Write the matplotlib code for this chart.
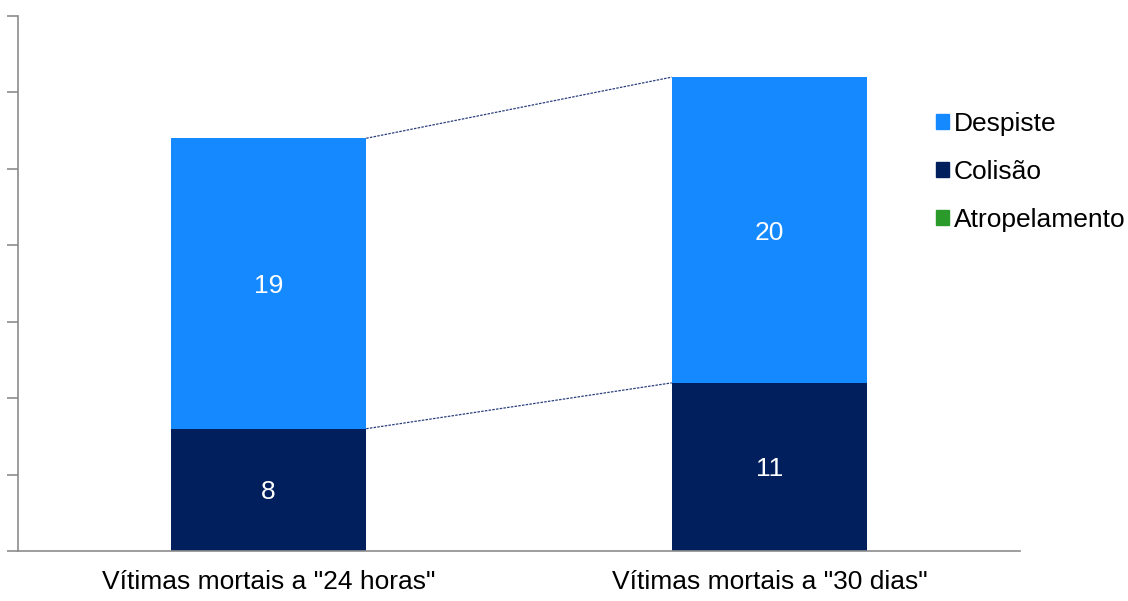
import matplotlib.pyplot as plt
import numpy as np
from matplotlib.patches import Patch

plt.rcParams['font.family'] = ['Liberation Sans', 'DejaVu Sans']

categories = ['Vítimas mortais a "24 horas"', 'Vítimas mortais a "30 dias"']
atropelamento = [0, 0]
colisao = [8, 11]
despiste = [19, 20]

c_desp = '#1589FF'
c_col = '#001F5C'
c_atr = '#2A9A2A'

fig = plt.figure(figsize=(11.28, 6.01), dpi=100)
ax = fig.add_axes([18/1128, 1-551/601, (1020-18)/1128, (551-16)/601])

x = np.arange(len(categories))
w = 0.39
ax.bar(x, atropelamento, w, color=c_atr)
ax.bar(x, colisao, w, bottom=atropelamento, color=c_col)
bottom2 = np.array(atropelamento) + np.array(colisao)
ax.bar(x, despiste, w, bottom=bottom2, color=c_desp)
top = bottom2 + np.array(despiste)

# series lines between the bars
ax.plot([x[0] + w/2, x[1] - w/2], [bottom2[0], bottom2[1]], color='#2B3F7F',
        linestyle=(0, (2, 1)), linewidth=0.9)
ax.plot([x[0] + w/2, x[1] - w/2], [top[0], top[1]], color='#2B3F7F',
        linestyle=(0, (2, 1)), linewidth=0.9)

for i in x:
    ax.text(i, bottom2[i] - colisao[i]/2, str(colisao[i]), color='white',
            ha='center', va='center_baseline', fontsize=19)
    ax.text(i, bottom2[i] + despiste[i]/2, str(despiste[i]), color='white',
            ha='center', va='center_baseline', fontsize=19)

ax.set_xlim(-0.5, 1.5)
ax.set_ylim(0, 35)
ax.set_yticks(np.arange(0, 36, 5))
ax.set_yticklabels([])
ax.set_xticks(x)
ax.set_xticklabels(categories, fontsize=19)
ax.tick_params(axis='x', length=0, pad=14)
ax.tick_params(axis='y', length=8, color='#8C8C8C', width=1.2)
for s in ['top', 'right']:
    ax.spines[s].set_visible(False)
ax.spines['left'].set_color('#8C8C8C')
ax.spines['bottom'].set_color('#8C8C8C')
ax.spines['left'].set_linewidth(1.2)
ax.spines['bottom'].set_linewidth(1.2)

handles = [Patch(color=c_desp), Patch(color=c_col), Patch(color=c_atr)]
fig.legend(handles, ['Despiste', 'Colisão', 'Atropelamento'],
           loc='upper left', bbox_to_anchor=(925/1128, 1-101/601),
           frameon=False, fontsize=19, handlelength=0.5, handleheight=0.5,
           handletextpad=0.2, labelspacing=0.92, borderaxespad=0)

fig.savefig('out.png', dpi=100)
